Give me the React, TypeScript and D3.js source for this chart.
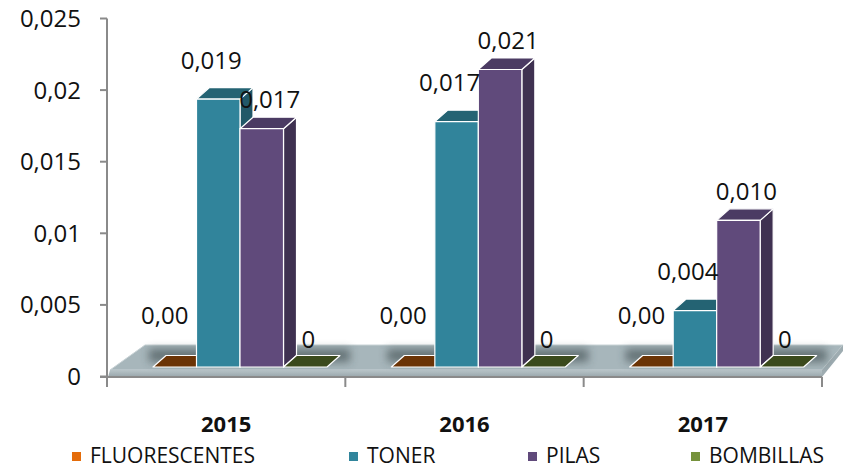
import React from "react";
import * as d3 from "d3";

const years = ["2015", "2016", "2017"];
const seriesNames = ["FLUORESCENTES", "TONER", "PILAS", "BOMBILLAS"];
const fluorescentes = [0, 0, 0];
const toner = [0.019, 0.0174, 0.004];
const pilas = [0.0169, 0.0211, 0.0104];
const bombillas = [0, 0, 0];
const yTicks = [0, 0.005, 0.01, 0.015, 0.02, 0.025];
const tickLabels = ["0", "0,005", "0,01", "0,015", "0,02", "0,025"];

const seriesValues = [fluorescentes, toner, pilas, bombillas];

const W = 844;
const H = 472;
const FONT = "'Open Sans', 'DejaVu Sans', sans-serif";

const styles = [
  { front: "#31849b", top: "#6b3406", side: "#6b3406", legend: "#e46c0a", tile: "#6b3406" },
  { front: "#31849b", top: "#246373", side: "#215868", legend: "#31859c", tile: "#246373" },
  { front: "#604a7b", top: "#4b3b63", side: "#3f3151", legend: "#604a7b", tile: "#4b3b63" },
  { front: "#77933c", top: "#3a4a1c", side: "#3a4a1c", legend: "#76923c", tile: "#3a4a1c" },
];
// label offsets (dx from bar front centre, dy above back-top edge)
const labelOff = [
  { dx: -10, dy: 32 },
  { dx: -7, dy: 19 },
  { dx: 8, dy: 9 },
  { dx: 3, dy: 8 },
];
const fmt = [
  (v: number) => v.toFixed(2).replace(".", ","),
  (v: number) => v.toFixed(3).replace(".", ","),
  (v: number) => v.toFixed(3).replace(".", ","),
  (v: number) => d3.format("d")(v),
];
const legendX = [72, 349, 528, 691];

export default function App() {
  const axisX = 107;
  const xCat = d3.scaleBand<string>().domain(years).range([107, 822]);
  const xSer = d3.scaleBand<string>().domain(seriesNames).range([46, 220]);
  const yAxis = d3.scaleLinear().domain([0, 0.025]).range([376.5, 18.5]);
  const baseY = 367;
  const yBar = d3.scaleLinear().domain([0, 0.025]).range([baseY, baseY - 0.025 * 14100]);
  const DX = 13;
  const DY = -11.5;
  const bw = xSer.bandwidth();

  const bars: React.ReactNode[] = [];
  const labels: React.ReactNode[] = [];
  const shadows: React.ReactNode[] = [];

  years.forEach((yr, ci) => {
    const gx = (xCat(yr) as number);
    const g0 = gx + (xSer(seriesNames[0]) as number);
    const g1 = gx + (xSer(seriesNames[3]) as number) + bw + DX;
    shadows.push(
      <rect key={"sh" + ci} x={g0 - 4} y={349} width={g1 - g0 + 14} height={13} fill="#2f3a3e" opacity={0.55} filter="url(#blur)" />
    );
    seriesNames.forEach((s, si) => {
      const v = seriesValues[si][ci];
      const x0 = gx + (xSer(s) as number);
      const x1 = x0 + bw;
      const top = yBar(v);
      const st = styles[si];
      const h = baseY - top;
      if (h < 0.5) {
        bars.push(
          <polygon
            key={`t${ci}-${si}`}
            points={`${x0},${baseY} ${x0 + DX},${baseY + DY} ${x1 + DX},${baseY + DY} ${x1},${baseY}`}
            fill={st.tile}
            stroke="#ffffff"
            strokeWidth={1.2}
            strokeLinejoin="round"
          />
        );
      } else {
        bars.push(
          <g key={`b${ci}-${si}`} stroke="#ffffff" strokeWidth={1.2} strokeLinejoin="round">
            <polygon points={`${x1},${top} ${x1 + DX},${top + DY} ${x1 + DX},${baseY + DY} ${x1},${baseY}`} fill={st.side} />
            <polygon points={`${x0},${top} ${x0 + DX},${top + DY} ${x1 + DX},${top + DY} ${x1},${top}`} fill={st.top} />
            <rect x={x0} y={top} width={bw} height={h} fill={st.front} />
          </g>
        );
      }
      labels.push(
        <text
          key={`l${ci}-${si}`}
          x={(x0 + x1) / 2 + labelOff[si].dx}
          y={top + DY - labelOff[si].dy}
          textAnchor="middle"
          fontSize={24}
          fontFamily={FONT}
          fill="#111"
        >
          {fmt[si](v)}
        </text>
      );
    });
  });

  return (
    <svg width={W} height={H} style={{ position: "absolute", left: 0, top: 0, background: "#fff" }}>
      <defs>
        <filter id="blur" x="-20%" y="-100%" width="140%" height="300%">
          <feGaussianBlur stdDeviation="4" />
        </filter>
        <linearGradient id="lip" x1="0" y1="0" x2="0" y2="1">
          <stop offset="0" stopColor="#b8c4c8" />
          <stop offset="1" stopColor="#98a6ab" />
        </linearGradient>
      </defs>
      {/* floor */}
      <polygon points="110,370 145,345 843,345 822,370" fill="#a7b6bb" stroke="#c9d3d6" strokeWidth={1} />
      <polygon points="108,377 110,370 822,370 822,377" fill="url(#lip)" />
      <polygon points="822,370 843,345 843,351 822,377" fill="#9eacb1" />
      {shadows}
      {bars}
      {/* y axis */}
      <line x1={axisX} x2={axisX} y1={yAxis(0.025)} y2={386} stroke="#8a8a8a" strokeWidth={2} />
      {yTicks.map((t, i) => (
        <g key={"yt" + i}>
          <line x1={100} x2={axisX} y1={yAxis(t)} y2={yAxis(t)} stroke="#8a8a8a" strokeWidth={2} />
          <text x={81} y={yAxis(t) + 8.5} textAnchor="end" fontSize={24} fontFamily={FONT} fill="#111">
            {tickLabels[i]}
          </text>
        </g>
      ))}
      {/* x axis ticks */}
      <line x1={100} x2={822} y1={377} y2={377} stroke="#8a8a8a" strokeWidth={2} />
      {[...years.map((y) => xCat(y) as number), 822].map((x, i) => (
        <line key={"xt" + i} x1={x} x2={x} y1={377} y2={387} stroke="#8a8a8a" strokeWidth={2} />
      ))}
      {years.map((yr) => (
        <text
          key={"yl" + yr}
          x={(xCat(yr) as number) + xCat.bandwidth() / 2}
          y={432}
          textAnchor="middle"
          fontSize={22}
          fontWeight="bold"
          fontFamily={FONT}
          fill="#111"
        >
          {yr}
        </text>
      ))}
      {labels}
      {/* legend */}
      {seriesNames.map((s, i) => (
        <g key={"lg" + s}>
          <rect x={legendX[i]} y={452} width={9} height={9} fill={styles[i].legend} />
          <text x={legendX[i] + 18} y={463} fontSize={21} fontFamily={FONT} fill="#111">
            {s}
          </text>
        </g>
      ))}
    </svg>
  );
}
